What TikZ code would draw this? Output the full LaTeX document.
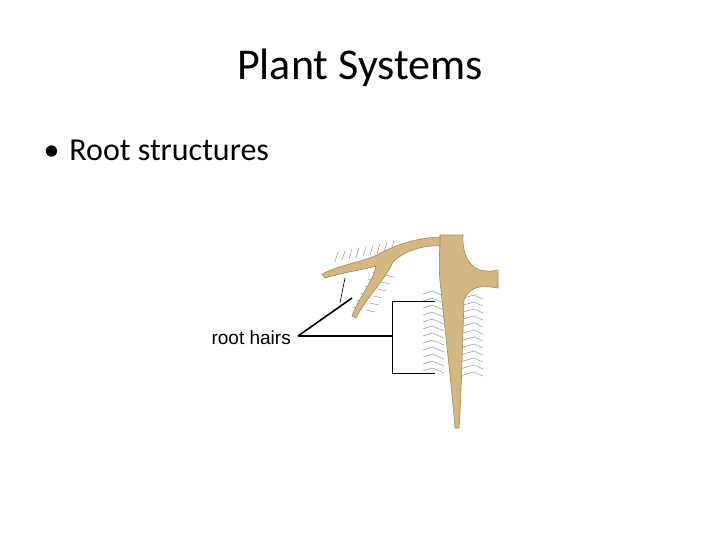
\documentclass[tikz,border=0pt]{standalone}
\usepackage{fontspec}
\setmainfont{Carlito}
\newfontfamily\arialf{Liberation Sans}
\definecolor{rootc}{RGB}{212,184,132}
\definecolor{rootd}{RGB}{165,135,85}
\definecolor{hairc}{RGB}{150,150,150}
\tikzset{rootsh/.style={fill=rootc,draw=rootd,line width=0.6pt},
hair/.style={draw=hairc,line width=0.5pt},
lead/.style={draw=black,line width=1.6pt}}
\begin{document}
\begin{tikzpicture}[x=1pt,y=-1pt]
\useasboundingbox (0,0) rectangle (720,540);
\node (title) at (360,68) {\fontsize{44}{48}\selectfont Plant Systems};
\node[anchor=west] (bul) at (40,150) {\fontsize{32}{36}\selectfont \textbullet\hspace{10pt}Root structures};
% hairs
\foreach \y in {296,303,...,376}{
 \draw[hair] (444,\y) -- ++(-12,-5) -- ++(-9,3);
 \draw[hair] (460,\y+3) -- ++(14,-4) -- ++(9,4);
}
\foreach \x in {335,342,...,392}{
 \draw[hair] (\x,{262-(\x-335)*0.2}) -- ++(3,-10);
}
\foreach \y in {275,282,...,310}{
 \draw[hair] ({380-(\y-275)*0.55},\y) -- ++(-8,-3);
 \draw[hair] ({385-(\y-275)*0.55},\y) -- ++(9,2);
}
% main root
\path[rootsh] (440,235) -- (463,235) .. controls (462,252) and (468,266) .. (480,270)
 .. controls (488,272) and (494,271) .. (498,270) -- (498,288)
 .. controls (485,286) and (470,284) .. (464,300)
 .. controls (462,360) and (461,400) .. (459,428) -- (455,428)
 .. controls (452,390) and (445,330) .. (441,290)
 .. controls (438,270) and (440,250) .. (440,235) -- cycle;
% left branch
\path[rootsh] (440,237) .. controls (415,238) and (395,245) .. (375,256)
 .. controls (360,262) and (340,265) .. (322,274)
 -- (325,278) .. controls (345,272) and (362,270) .. (376,266)
 .. controls (374,280) and (360,295) .. (352,316) -- (356,318)
 .. controls (366,298) and (385,280) .. (393,262)
 .. controls (405,250) and (425,245) .. (440,246) -- cycle;
% leaders
\node[anchor=east,inner sep=0pt] (lab) at (291,338) {\arialf\fontsize{19}{21}\selectfont root hairs};
\coordinate (p) at (298,336);
\coordinate (q) at (352,298);
\coordinate (r) at (392,336);
\draw[lead] (p) -- (q);
\draw[lead] (p) -- (r);
\draw[draw=black,line width=0.8pt] (435,301) -- (392,301) -- (392,373) -- (435,373);
\draw[line width=0.6pt] (340,303) -- (345,278);
\end{tikzpicture}
\end{document}
